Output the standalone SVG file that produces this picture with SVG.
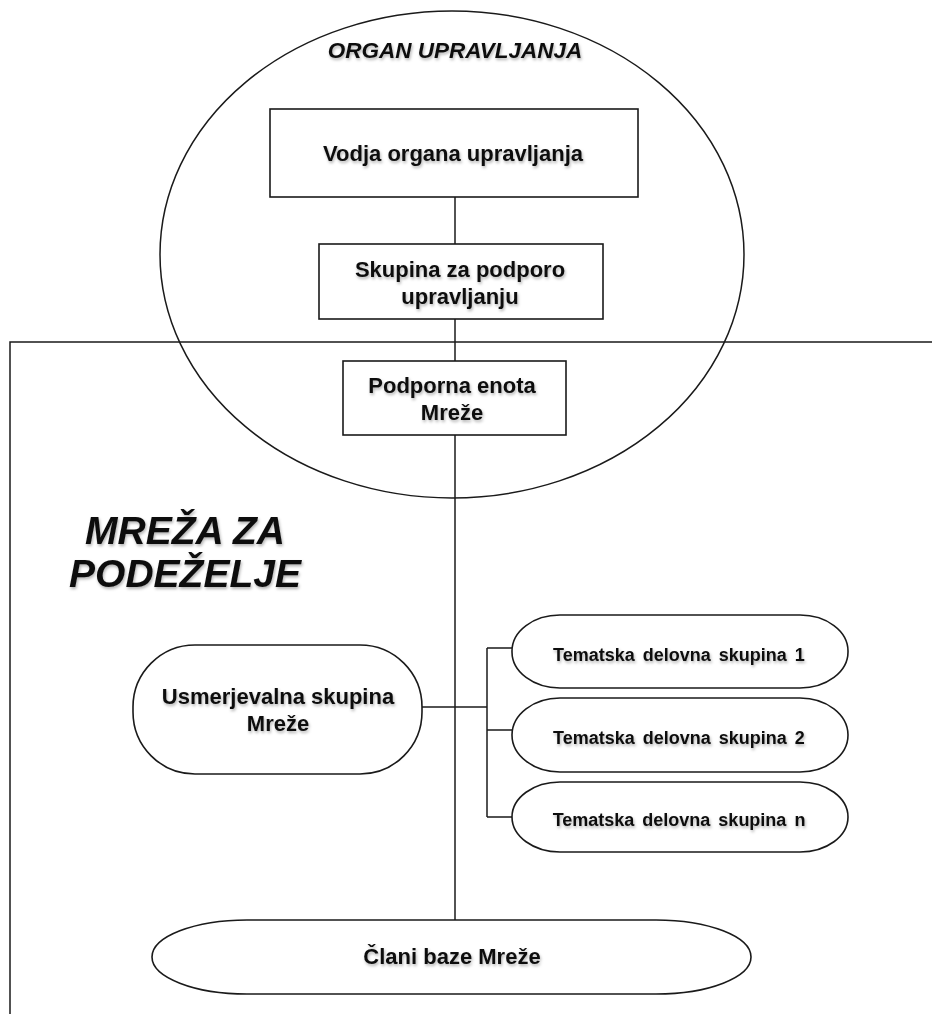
<svg xmlns="http://www.w3.org/2000/svg" width="932" height="1014" viewBox="0 0 932 1014">
<defs>
<style>
.ln{fill:none;stroke:#1a1a1a;stroke-width:1.5}
.bx{fill:#fff;stroke:#1a1a1a;stroke-width:1.6}
.t{font-family:"Liberation Sans",Arial,sans-serif;font-weight:bold;fill:#111;text-anchor:middle}
.t22{font-size:22px}
.t18{font-size:18px;word-spacing:3px}
.ti{font-style:italic}
</style>
<filter id="sh" x="-10%" y="-30%" width="120%" height="170%">
<feDropShadow dx="1" dy="2" stdDeviation="1.4" flood-color="#000" flood-opacity="0.3"/>
</filter>
</defs>
<rect width="932" height="1014" fill="#fff"/>

<g id="frame">
<path class="ln" d="M10,1014 V342 H932"/>
</g>

<g id="organ-upravljanja">
<ellipse class="ln" cx="452" cy="254.5" rx="292" ry="243.5" stroke-width="1.7"/>
<text class="t ti" x="455" y="58" font-size="22.5" filter="url(#sh)">ORGAN UPRAVLJANJA</text>
</g>

<g id="title">
<text class="t ti" font-size="39" x="185" y="544" filter="url(#sh)">MREŽA ZA</text>
<text class="t ti" font-size="39" x="185" y="587" filter="url(#sh)">PODEŽELJE</text>
</g>

<g id="connectors">
<path class="ln" d="M455,197 V920"/>
<path class="ln" d="M422,707 H487"/>
<path class="ln" d="M487,648 V817"/>
<path class="ln" d="M487,648 H512 M487,730 H512 M487,817 H512"/>
</g>

<g id="vodja">
<rect class="bx" x="270" y="109" width="368" height="88"/>
<text class="t t22" x="453" y="161" filter="url(#sh)">Vodja organa upravljanja</text>
</g>

<g id="skupina-podpora">
<rect class="bx" x="319" y="244" width="284" height="75"/>
<text class="t t22" x="460" y="277" filter="url(#sh)">Skupina za podporo</text>
<text class="t t22" x="460" y="304" filter="url(#sh)">upravljanju</text>
</g>

<g id="podporna-enota">
<rect class="bx" x="343" y="361" width="223" height="74"/>
<text class="t t22" x="452" y="393" filter="url(#sh)">Podporna enota</text>
<text class="t t22" x="452" y="420" filter="url(#sh)">Mreže</text>
</g>

<g id="usmerjevalna">
<rect class="bx" x="133" y="645" width="289" height="129" rx="62" ry="62"/>
<text class="t t22" x="278" y="704" filter="url(#sh)">Usmerjevalna skupina</text>
<text class="t t22" x="278" y="731" filter="url(#sh)">Mreže</text>
</g>

<g id="tds1">
<rect class="bx" x="512" y="615" width="336" height="73" rx="48" ry="36"/>
<text class="t t18" x="679" y="661" filter="url(#sh)">Tematska delovna skupina 1</text>
</g>

<g id="tds2">
<rect class="bx" x="512" y="698" width="336" height="74" rx="48" ry="37"/>
<text class="t t18" x="679" y="744" filter="url(#sh)">Tematska delovna skupina 2</text>
</g>

<g id="tdsn">
<rect class="bx" x="512" y="782" width="336" height="70" rx="48" ry="35"/>
<text class="t t18" x="679" y="826" filter="url(#sh)">Tematska delovna skupina n</text>
</g>

<g id="clani">
<rect class="bx" x="152" y="920" width="599" height="74" rx="95" ry="37"/>
<text class="t t22" x="452" y="964" filter="url(#sh)">Člani baze Mreže</text>
</g>
</svg>
